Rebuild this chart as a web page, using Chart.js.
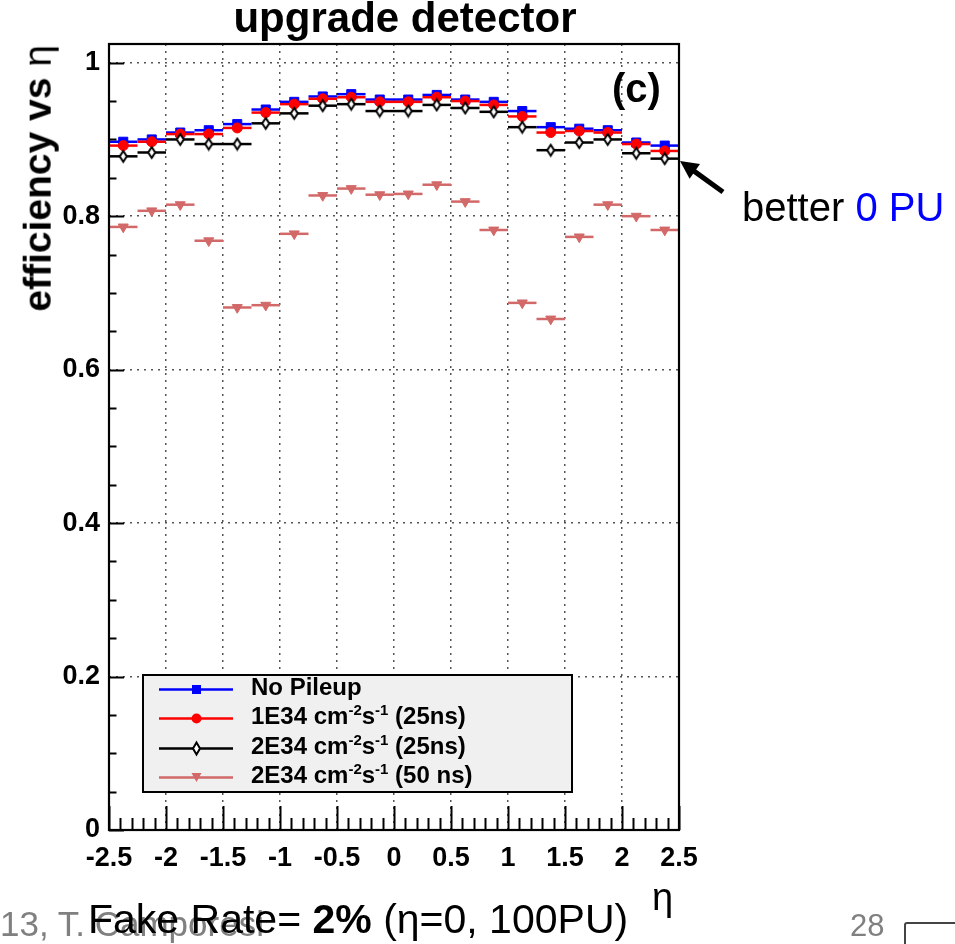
<!DOCTYPE html>
<html>
<head>
<meta charset="utf-8">
<title>efficiency vs eta</title>
<script src="https://cdn.jsdelivr.net/npm/chart.js@4.4.0/dist/chart.umd.min.js"></script>
<style>
  body { margin: 0; background: #fff; font-family: "Liberation Sans", Arial, sans-serif; }
  #wrap { position: relative; width: 955px; height: 944px; overflow: hidden; }
  #wrap canvas { position: absolute; left: 0; top: 0; }
  .txt { position: absolute; white-space: nowrap; line-height: 1; }
  #legend { position: absolute; left: 142px; top: 674px; width: 431px; height: 119px;
            box-sizing: border-box; border: 2px solid #000; background: #f0f0f0; }
  #legend .row { position: absolute; left: 0; width: 100%; height: 29px; }
  #legend svg { position: absolute; left: 12px; top: 0; }
  #legend .lab { position: absolute; left: 107px; top: 0px; font: bold 24px "Liberation Sans", Arial, sans-serif;
                 line-height: 1; white-space: nowrap; }
  #legend .sup { position: relative; top: -9px; font-size: 15px; }
</style>
</head>
<body>
<div id="wrap">
  <canvas id="effChart" width="955" height="944"></canvas>

  <div class="txt" style="left:0;width:810px;text-align:center;top:-3px;font-weight:bold;font-size:42px;">upgrade detector</div>
  <div class="txt" style="right:937px;top:45px;font-weight:bold;font-size:39px;transform-origin:100% 0;transform:rotate(-90deg);">efficiency vs <span style="font-weight:normal">&eta;</span></div>
  <div class="txt" style="left:612px;top:68px;font-weight:bold;font-size:40px;">(c)</div>
  <div class="txt" style="left:742px;top:187px;font-size:40px;">better <span style="color:#0000ff">0 PU</span></div>
  <div class="txt" style="left:652px;top:878px;font-size:38px;">&eta;</div>
  <div class="txt" style="left:0;top:906px;font-size:35px;color:#808080;">13, T. Camporesi</div>
  <div class="txt" style="left:88px;top:899px;font-size:41px;">Fake Rate= <b>2%</b> (&eta;=0, 100PU)</div>
  <div class="txt" style="left:850px;top:910px;font-size:31px;color:#808080;">28</div>
  <div style="position:absolute;left:904px;top:922px;width:70px;height:40px;border:2px solid #444;border-radius:3px;"></div>

  <svg style="position:absolute;left:0;top:0" width="955" height="944">
    <line x1="723" y1="192" x2="692" y2="169.6" stroke="#000" stroke-width="5"/>
    <polygon points="680,161 700,163.9 689.6,178.7" fill="#000"/>
  </svg>

  <div id="legend"></div>
</div>

<script>
// eta bin centres (bin width 0.25)
const etaCenters = [-2.375, -2.125, -1.875, -1.625, -1.375, -1.125, -0.875, -0.625, -0.375, -0.125,
                    0.125, 0.375, 0.625, 0.875, 1.125, 1.375, 1.625, 1.875, 2.125, 2.375];
const binHalfWidth = 0.125;

const effNoPileup  = [0.897, 0.900, 0.909, 0.912, 0.920, 0.939, 0.949, 0.956, 0.959, 0.952,
                      0.952, 0.958, 0.952, 0.949, 0.937, 0.916, 0.914, 0.912, 0.896, 0.892];
const eff1E34_25ns = [0.892, 0.897, 0.907, 0.907, 0.915, 0.935, 0.946, 0.953, 0.955, 0.949,
                      0.949, 0.955, 0.950, 0.945, 0.930, 0.909, 0.911, 0.909, 0.894, 0.885];
const eff2E34_25ns = [0.878, 0.883, 0.900, 0.894, 0.894, 0.921, 0.934, 0.944, 0.946, 0.937,
                      0.937, 0.945, 0.941, 0.936, 0.916, 0.886, 0.896, 0.900, 0.882, 0.875];
const eff2E34_50ns = [0.786, 0.807, 0.815, 0.768, 0.681, 0.684, 0.777, 0.827, 0.836, 0.828,
                      0.829, 0.841, 0.819, 0.782, 0.687, 0.666, 0.773, 0.815, 0.800, 0.782];

const xTicks = [-2.5, -2, -1.5, -1, -0.5, 0, 0.5, 1, 1.5, 2, 2.5];
const yTicks = [0, 0.2, 0.4, 0.6, 0.8, 1];

const BLUE = '#0000ff', RED = '#ff0000', BLACK = '#000000', PINK = '#d26868';

// narrow open diamond, like the ROOT marker
function diamondMarker(w, h) {
  const c = document.createElement('canvas');
  c.width = w + 4; c.height = h + 4;
  const g = c.getContext('2d');
  g.beginPath();
  g.moveTo(c.width / 2, 2); g.lineTo(c.width - 2, c.height / 2);
  g.lineTo(c.width / 2, c.height - 2); g.lineTo(2, c.height / 2);
  g.closePath();
  g.fillStyle = '#fff'; g.fill();
  g.lineWidth = 2; g.strokeStyle = BLACK; g.stroke();
  return c;
}

function pts(vals) { return etaCenters.map((x, i) => ({ x: x, y: vals[i] })); }

const datasets = [
  { label: 'No Pileup', data: pts(effNoPileup), borderColor: BLUE, backgroundColor: BLUE,
    pointStyle: 'rect', pointRadius: 6.4, order: 4 },
  { label: '1E34 cm-2s-1 (25ns)', data: pts(eff1E34_25ns), borderColor: RED, backgroundColor: RED,
    pointStyle: 'circle', pointRadius: 5, order: 3 },
  { label: '2E34 cm-2s-1 (25ns)', data: pts(eff2E34_25ns), borderColor: BLACK, backgroundColor: '#fff',
    pointStyle: diamondMarker(7, 11), pointRadius: 6, order: 2 },
  { label: '2E34 cm-2s-1 (50 ns)', data: pts(eff2E34_50ns), borderColor: PINK, backgroundColor: PINK,
    pointStyle: 'triangle', pointRotation: 180, pointRadius: 5.8, order: 1 }
];
datasets.forEach(d => { d.showLine = false; d.borderWidth = 1; });

// horizontal bin-width bars, frame and inward ticks
const rootStyle = {
  id: 'rootStyle',
  beforeDatasetsDraw(chart) {
    const ctx = chart.ctx, xs = chart.scales.x, ys = chart.scales.y;
    chart.data.datasets.forEach(ds => {
      ctx.save();
      ctx.strokeStyle = ds.borderColor;
      ctx.lineWidth = 2.5;
      ds.data.forEach(p => {
        const y = ys.getPixelForValue(p.y);
        ctx.beginPath();
        ctx.moveTo(xs.getPixelForValue(p.x - binHalfWidth), y);
        ctx.lineTo(xs.getPixelForValue(p.x + binHalfWidth), y);
        ctx.stroke();
      });
      ctx.restore();
    });
  },
  afterDraw(chart) {
    const ctx = chart.ctx, a = chart.chartArea, xs = chart.scales.x, ys = chart.scales.y;
    ctx.save();
    ctx.strokeStyle = '#000';
    ctx.lineWidth = 2;
    // y ticks: minor every 0.05
    for (let k = 0; k <= 20; k++) {
      const y = Math.round(ys.getPixelForValue(k * 0.05)) + 0.5;
      const len = (k % 4 === 0) ? 15 : 7.5;
      ctx.beginPath(); ctx.moveTo(a.left, y); ctx.lineTo(a.left + len, y); ctx.stroke();
    }
    // x ticks: minor every 0.1
    for (let k = 0; k <= 50; k++) {
      const x = Math.round(xs.getPixelForValue(-2.5 + k * 0.1)) + 0.5;
      const len = (k % 5 === 0) ? 24 : 12;
      ctx.beginPath(); ctx.moveTo(x, a.bottom); ctx.lineTo(x, a.bottom - len); ctx.stroke();
    }
    ctx.lineWidth = 2.2;
    ctx.strokeRect(a.left, a.top, a.right - a.left, a.bottom - a.top);
    ctx.restore();
  }
};

const tickFont = { family: '"Liberation Sans", Arial, sans-serif', size: 27, weight: 'bold' };

new Chart(document.getElementById('effChart'), {
  type: 'scatter',
  data: { datasets: datasets },
  options: {
    responsive: false,
    animation: false,
    devicePixelRatio: 1,
    layout: { padding: { left: 0, top: 44, right: 276, bottom: 0 } },
    plugins: { legend: { display: false }, tooltip: { enabled: false } },
    scales: {
      x: {
        type: 'linear', min: -2.5, max: 2.5,
        afterBuildTicks: s => { s.ticks = xTicks.map(v => ({ value: v })); },
        afterFit: s => { s.height = 114; },
        ticks: { font: tickFont, color: '#000', padding: 12, autoSkip: false, maxRotation: 0,
                 callback: v => String(v) },
        grid: { drawTicks: false, lineWidth: 1.5,
                color: c => (Math.abs(c.tick.value) >= 2.5 ? 'rgba(0,0,0,0)' : '#555') },
        border: { display: false, dash: [2, 5] }
      },
      y: {
        type: 'linear', min: 0, max: 1.0244,
        afterBuildTicks: s => { s.ticks = yTicks.map(v => ({ value: v })); },
        afterFit: s => { s.width = 109; },
        ticks: { font: tickFont, color: '#000', padding: 9, callback: v => String(v) },
        grid: { drawTicks: false, lineWidth: 1.5,
                color: c => (c.tick.value === 0 ? 'rgba(0,0,0,0)' : '#555') },
        border: { display: false, dash: [2, 5] }
      }
    }
  },
  plugins: [rootStyle]
});

// legend box, drawn as html so the superscripts stay real text
const legendRows = [
  { html: 'No Pileup', color: BLUE, mark: 'square' },
  { html: '1E34 cm<span class="sup">-2</span>s<span class="sup">-1</span> (25ns)', color: RED, mark: 'circle' },
  { html: '2E34 cm<span class="sup">-2</span>s<span class="sup">-1</span> (25ns)', color: BLACK, mark: 'diamond' },
  { html: '2E34 cm<span class="sup">-2</span>s<span class="sup">-1</span> (50 ns)', color: PINK, mark: 'tri' }
];
const rowTops = [-1, 28, 58, 87];
const leg = document.getElementById('legend');
legendRows.forEach((r, i) => {
  let m = '';
  if (r.mark === 'square') m = '<rect x="36" y="10" width="9" height="9" fill="' + r.color + '"/>';
  if (r.mark === 'circle') m = '<circle cx="40.5" cy="14.5" r="5" fill="' + r.color + '"/>';
  if (r.mark === 'diamond') m = '<polygon points="40.5,8.5 44,14.5 40.5,20.5 37,14.5" fill="#fff" stroke="#000" stroke-width="2"/>';
  if (r.mark === 'tri') m = '<polygon points="35.5,10 45.5,10 40.5,19" fill="' + r.color + '"/>';
  const row = document.createElement('div');
  row.className = 'row';
  row.style.top = rowTops[i] + 'px';
  row.innerHTML = '<svg width="80" height="29"><line x1="3" y1="14.5" x2="77" y2="14.5" stroke="' + r.color +
    '" stroke-width="2.5"/>' + m + '</svg><span class="lab">' + r.html + '</span>';
  leg.appendChild(row);
});
</script>
</body>
</html>
